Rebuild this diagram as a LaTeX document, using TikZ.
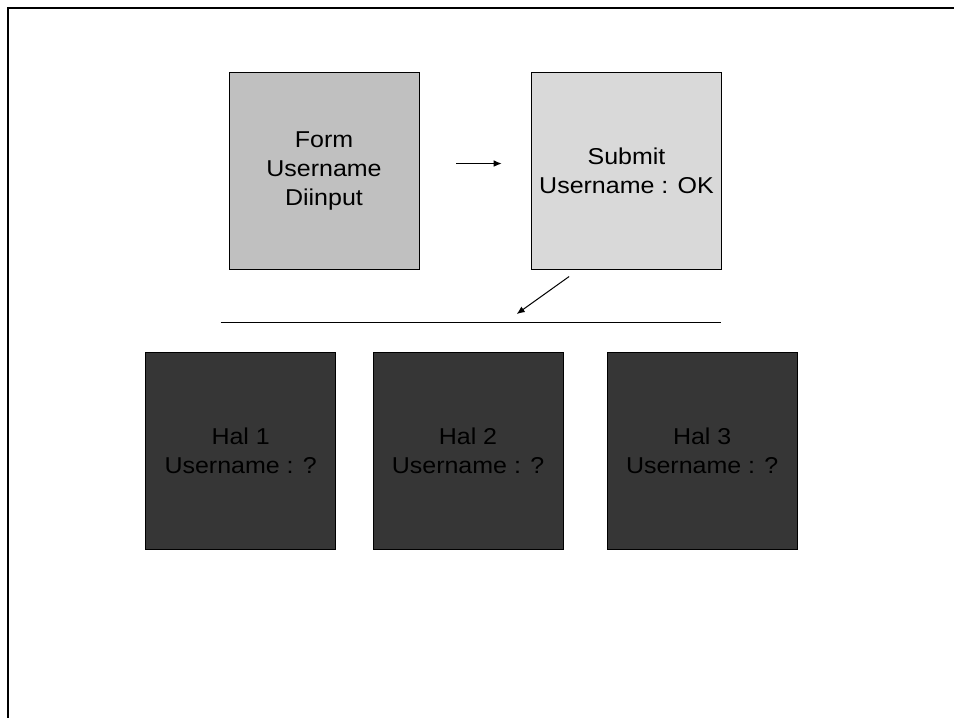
\documentclass[tikz,border=0pt]{standalone}
\usepackage{fontspec}
\setmainfont{Liberation Sans}[FakeStretch=1.09]
\usepackage{tikz}
\usetikzlibrary{arrows.meta}

\definecolor{formgray}{RGB}{192,192,192}
\definecolor{submitgray}{RGB}{217,217,217}
\definecolor{halgray}{RGB}{54,54,54}

\begin{document}
\begin{tikzpicture}[x=0.75pt, y=-0.75pt,
		box/.style={draw=black, line width=0.75pt, minimum width=142.5pt, minimum height=147.5pt, inner sep=0pt, align=center, font=\fontsize{17.2pt}{21.5pt}\selectfont},
		arr/.style={-{Latex[length=6pt, width=5pt]}, line width=0.75pt}]
		\useasboundingbox (0,0) rectangle (954,718);

		% Frame
		\draw[line width=1.6pt] (8,722) -- (8,8) -- (958,8);

		% Top row
		\node[box, fill=formgray] (form) at (324,171) {Form\\Username\\Diinput};
		\node[box, fill=submitgray] (submit) at (626.5,171) {Submit\\Username : OK};
		\draw[arr, shorten <=27.7pt, shorten >=22pt] ([yshift=5.6pt]form.east) -- ([yshift=5.6pt]submit.west);

		% Split line
		\coordinate (bar west) at (220.7,322.3);
		\coordinate (bar east) at (720.7,322.3);
		\coordinate (split) at (516.7,314);
		\draw[line width=0.75pt] (bar west) -- (bar east);
		\draw[arr] ([xshift=-43pt, yshift=-5pt]submit.south) -- (split);

		% Pages
		\node[box, fill=halgray] (hal1) at (240.7,451) {Hal 1\\Username : ?};
		\node[box, fill=halgray] (hal2) at (468,451) {Hal 2\\Username : ?};
		\node[box, fill=halgray] (hal3) at (702.2,451) {Hal 3\\Username : ?};
	\end{tikzpicture}
\end{document}
